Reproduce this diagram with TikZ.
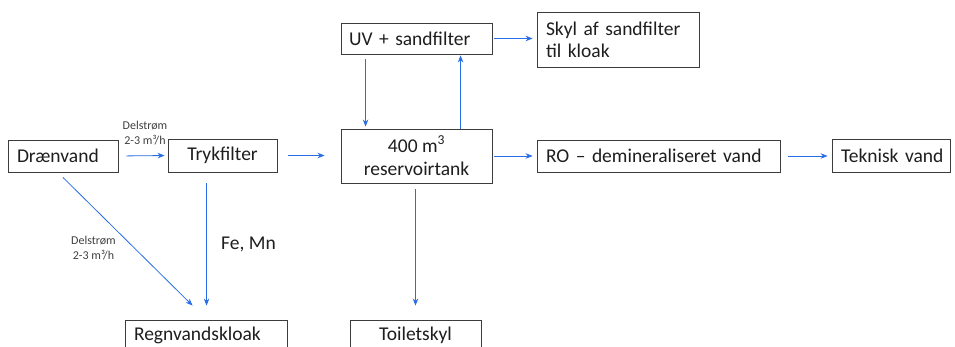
\documentclass[tikz,border=0pt]{standalone}
\usepackage{fontspec}
\setmainfont{Carlito}
\usetikzlibrary{arrows.meta,calc}
\definecolor{arrblue}{RGB}{40,110,230}
\definecolor{boxgray}{RGB}{60,60,60}
\definecolor{txt}{RGB}{30,30,30}
\begin{document}
\begin{tikzpicture}[x=1pt,y=-1pt,
  box/.style={draw=boxgray,line width=0.9pt,rectangle,inner ysep=0pt,text=txt,font=\fontsize{19.5}{22}\selectfont},
  lbox/.style={box,align=left},
  arr/.style={draw=arrblue,line width=0.8pt,-{Stealth[length=7pt,width=5.5pt]}},
  small/.style={font=\fontsize{12}{14.5}\selectfont,text=black!75,align=center,inner sep=0pt},
  big/.style={font=\fontsize{19.5}{22}\selectfont,text=txt,inner sep=0pt}]
\useasboundingbox (0,0) rectangle (955,347);
\clip (0,0) rectangle (955,347);
\fill[white] (0,0) rectangle (955,347);

% boxes
\node[lbox,minimum width=110pt,minimum height=32pt,inner xsep=9pt,text width=92pt] (dren) at (63,156) {\mbox{Drænvand}};
\node[box,minimum width=109pt,minimum height=33pt,inner xsep=0pt] (tryk) at (222.5,155.5) {Trykfilter};
\node[lbox,minimum width=151pt,minimum height=31pt,inner xsep=8pt,text width=135pt] (uv) at (416.5,38.5) {\mbox{UV + sandfilter}};
\node[lbox,minimum width=162pt,minimum height=55pt,inner xsep=9pt,text width=144pt] (skyl) at (618,39.5) {\mbox{Skyl af sandfilter}\\til kloak};
\node[box,minimum width=151pt,minimum height=54pt,inner xsep=0pt,align=center,font=\fontsize{19.5}{23.5}\selectfont] (res) at (416.5,156) {400 m\textsuperscript{3}\\reservoirtank};
\node[lbox,minimum width=243pt,minimum height=32pt,inner xsep=9pt,text width=225pt] (ro) at (658.5,156) {\mbox{RO – demineraliseret vand}};
\node[lbox,minimum width=118pt,minimum height=33pt,inner xsep=9pt,text width=100pt] (tek) at (891,155.5) {\mbox{Teknisk vand}};
\node[lbox,minimum width=162pt,minimum height=30pt,inner xsep=9pt,text width=144pt] (regn) at (206,335) {\mbox{Regnvandskloak}};
\node[box,minimum width=131pt,minimum height=30pt,inner xsep=0pt] (toil) at (415.5,335) {Toiletskyl};

% connectors
\draw[arr,shorten <=8pt,shorten >=3pt] (dren.east) -- (tryk.west);
\draw[arr,shorten <=11pt,shorten >=16pt] (tryk.east) -- (tryk.east -| res.west);
\draw[arr,shorten <=2pt,shorten >=4pt] (uv.east) -- (uv.east -| skyl.west);
\draw[arr,shorten <=2pt,shorten >=4pt] (res.east) -- (res.east -| ro.west);
\draw[arr,shorten <=8pt,shorten >=4pt] (ro.east) -- (ro.east -| tek.west);
\draw[arr,shorten <=5pt,shorten >=2pt] ($(uv.south west)+(25,0)$) -- ($(res.north west)+(25,0)$);
\draw[arr,shorten >=1pt] ($(res.north west)+(120,0)$) -- ($(uv.south west)+(120,0)$);
\draw[arr,shorten <=11pt,shorten >=14pt] ($(tryk.south west)+(39,0)$) -- ($(regn.north west)+(82,0)$);
\draw[arr] ($(dren.south)+(0,5)$) -- ($(regn.north west)+(68,-14)$);
\draw[arr,shorten <=6pt,shorten >=14pt] (res.south -| toil.north) -- (toil.north);

% labels
\node[small] (l1) at (145,133) {Delstrøm\\2-3 m³/h};
\node[small,anchor=west] (l2) at (71,248) {Delstrøm\\2-3 m³/h};
\node[big,anchor=west] (l3) at (221,244) {Fe, Mn};
\end{tikzpicture}
\end{document}
